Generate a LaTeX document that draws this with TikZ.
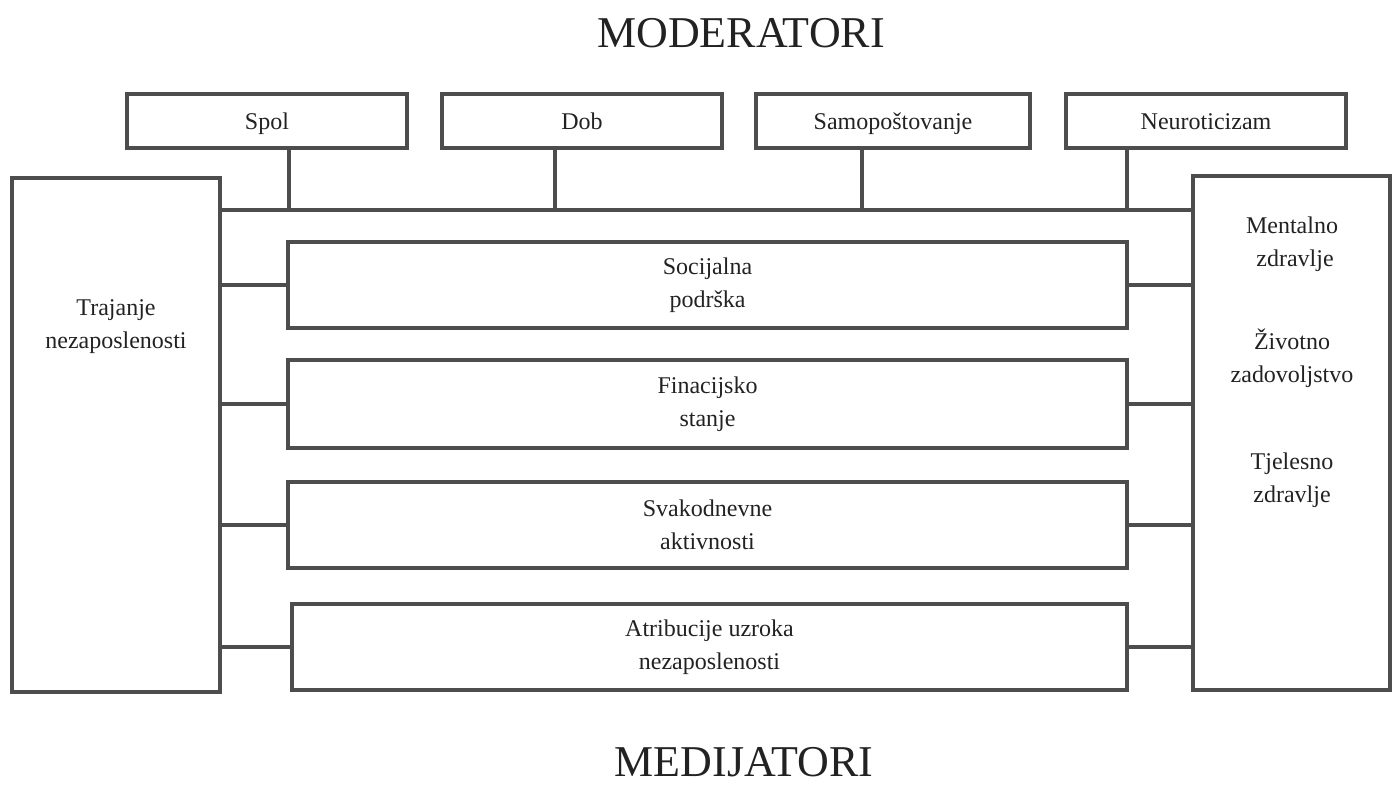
\documentclass[tikz,border=0pt]{standalone}
\usepackage{fontspec}
\setmainfont{Liberation Serif}
\usetikzlibrary{positioning}
\definecolor{linegray}{HTML}{4D4D4D}
\definecolor{textgray}{HTML}{222222}

\begin{document}
\begin{tikzpicture}[x=1pt,y=-1pt,
		box/.style={draw=linegray,line width=3.5pt,rectangle,inner sep=0pt,align=center,
			text=textgray,font=\fontsize{24}{33}\selectfont},
		modbox/.style={box,minimum width=280pt,minimum height=54pt,text height=18pt,text depth=1pt},
		medbox/.style={box,minimum width=839pt,minimum height=86pt},
		label/.style={text=textgray,align=center,inner sep=0pt,font=\fontsize{24}{33}\selectfont},
		title/.style={text=textgray,inner sep=0pt,font=\fontsize{44}{48}\selectfont},
		link/.style={draw=linegray,line width=3.5pt}]
		\useasboundingbox (0,0) rectangle (1393,788);
		% titles
		\node [title] (moder) at (741,33) {MODERATORI};
		\node [title] (medij) at (744,762) {MEDIJATORI};
		% moderators
		\node [modbox] (spol) at (267,121) {Spol};
		\node [modbox] (dob) at (582,121) {Dob};
		\node [modbox,minimum width=274pt] (samo) at (893,121) {Samopoštovanje};
		\node [modbox] (neuro) at (1206,121) {Neuroticizam};
		% cause and outcomes
		\node [box,minimum width=208pt,minimum height=514pt] (traj) at (116,435) {};
		\node [label] (trajtxt) at (116,327) {Trajanje\\nezaposlenosti};
		\node [box,minimum width=197pt,minimum height=514pt] (ishod) at (1291.5,433) {};
		\node [label] (ishodtxt) at (1292,362) {Mentalno\\\ zdravlje\\[50pt]Životno\\zadovoljstvo\\[54pt]Tjelesno\\zdravlje};
		% mediators
		\node [medbox] (soc) at (707.5,285) {Socijalna\\podrška};
		\node [medbox,minimum height=88pt] (fin) at (707.5,404) {Finacijsko\\stanje};
		\node [medbox] (sva) at (707.5,525) {Svakodnevne\\aktivnosti};
		\node [medbox,minimum width=835pt] (atr) at (709.5,647) {Atribucije uzroka\\nezaposlenosti};
		% moderator bus
		\coordinate (bus) at (traj.east |- 0,210);
		\coordinate (spolstem) at ([xshift=22pt]spol.south);
		\coordinate (dobstem) at ([xshift=-27pt]dob.south);
		\coordinate (samostem) at ([xshift=-31pt]samo.south);
		\coordinate (neurostem) at ([xshift=-79pt]neuro.south);
		\draw [link] (bus) -- (bus -| ishod.west);
		\foreach \s in {spolstem,dobstem,samostem,neurostem}
			\draw [link] (\s) -- (\s |- bus);
		% mediator links
		\foreach \m in {soc,fin,sva,atr} {
			\draw [link] (\m.west -| traj.east) -- (\m.west);
			\draw [link] (\m.east) -- (\m.east -| ishod.west);
		}
\end{tikzpicture}
\end{document}
